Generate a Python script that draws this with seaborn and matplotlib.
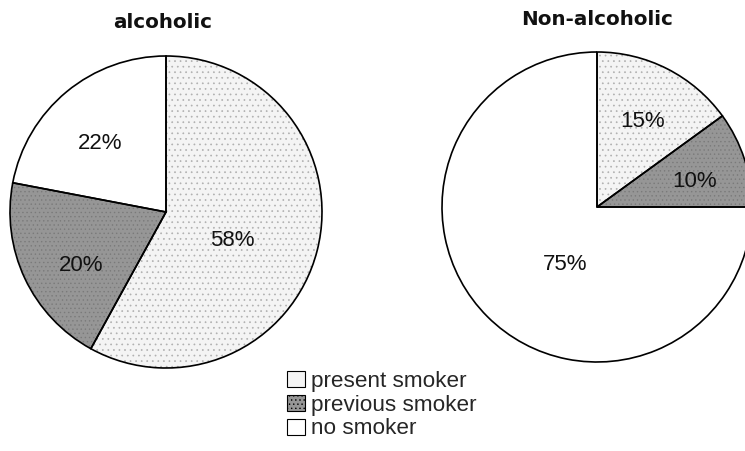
import matplotlib.pyplot as plt
import seaborn as sns
from matplotlib.patches import Patch

# podaci sa slike
categories = ['present smoker', 'previous smoker', 'no smoker']
alcoholic = [58, 20, 22]
non_alcoholic = [15, 10, 75]
titles = ['alcoholic', 'Non-alcoholic']

# izgled
sns.set_theme(style='white')
plt.rcParams['font.family'] = ['Liberation Sans', 'DejaVu Sans']
plt.rcParams['hatch.linewidth'] = 0.5

fills = ['#f4f4f4', '#969696', '#ffffff']
hatch_colors = ['#b0b0b0', '#7a7a7a', '#ffffff']
hatches = ['...', '....', '']

# pozicije natpisa procenata (u koordinatama pite, radijus 1)
label_xy_alc = [(0.423, -0.183), (-0.545, -0.34), (-0.42, 0.44)]
label_xy_non = [(0.294, 0.552), (0.632, 0.165), (-0.206, -0.374)]

W, H = 745, 451
fig = plt.figure(figsize=(W / 100, H / 100), dpi=100)


def draw_pie(cx, cy, r, values, label_xy):
    # osa tacno oko kruga, u pikselima slike
    ax = fig.add_axes([(cx - r) / W, (H - cy - r) / H, 2 * r / W, 2 * r / H])
    # prvo tekstura (hatch) bez ivica
    wedges, _ = ax.pie(values, colors=fills, startangle=90, counterclock=False,
                       wedgeprops=dict(linewidth=0))
    for w, h, hc in zip(wedges, hatches, hatch_colors):
        w.set_hatch(h)
        w.set_edgecolor(hc)
        w.set_linewidth(0)
    # pa crne ivice i procenti
    wedges2, _, autotexts = ax.pie(values, colors=['none'] * 3, startangle=90,
                                   counterclock=False, autopct='%d%%',
                                   wedgeprops=dict(edgecolor='black', linewidth=1.2),
                                   textprops=dict(fontsize=16, color='#111111'))
    for w in list(wedges) + list(wedges2):
        w.set_clip_on(False)
    for t, (x, y) in zip(autotexts, label_xy):
        t.set_position((x, y))
    ax.set_xlim(-1, 1)
    ax.set_ylim(-1, 1)
    return ax


draw_pie(166, 212, 156, alcoholic, label_xy_alc)
draw_pie(597, 207, 155, non_alcoholic, label_xy_non)

# naslovi
fig.text(162.5 / W, 1 - 28 / H, titles[0], ha='center', va='baseline',
         fontsize=14.3, fontweight='bold', family='DejaVu Sans', color='#111111')
fig.text(597.5 / W, 1 - 25 / H, titles[1], ha='center', va='baseline',
         fontsize=14.3, fontweight='bold', family='DejaVu Sans', color='#111111')

# legenda
handles = [Patch(facecolor=f, edgecolor='black', linewidth=0.8, hatch=h)
           for f, h in zip(fills, ['', '....', ''])]
fig.legend(handles, categories, loc='upper left', bbox_to_anchor=(287 / W, 1 - 371 / H),
           frameon=False, fontsize=16.2, handlelength=0.78, handleheight=0.72,
           handletextpad=0.3, labelspacing=0.12, borderpad=0, borderaxespad=0)

fig.savefig('out.png', dpi=100)
